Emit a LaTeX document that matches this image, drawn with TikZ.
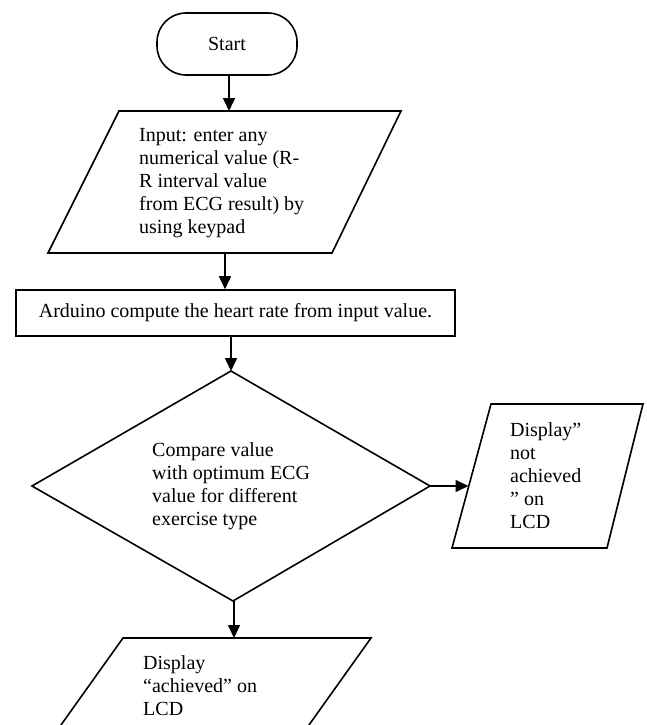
\documentclass[tikz,border=0pt]{standalone}
\usepackage{fontspec}
\setmainfont{Liberation Serif}
\usetikzlibrary{arrows.meta}
\tikzset{
  shapeline/.style={draw=black, line width=1.6pt, line join=miter},
  conn/.style={draw=black, line width=1.6pt, -{Triangle[length=13pt,width=12pt]}},
  txt/.style={font=\fontsize{20}{23}\selectfont, align=left, inner sep=0pt, anchor=west},
}
\begin{document}
\begin{tikzpicture}[x=1pt,y=-1pt]
\useasboundingbox (0,0) rectangle (646,725);
\clip (0,0) rectangle (646,725);
\fill[white] (0,0) rectangle (646,725);

% Start terminal
\node[shapeline, rounded corners=29pt, minimum width=140pt, minimum height=62pt,
      font=\fontsize{20}{23}\selectfont, inner sep=0pt] (start) at (227,44) {Start};

% Input parallelogram
\path[shapeline] (119,111) coordinate (inTL) -- (401,111) -- (332,253) -- (48,253) -- cycle;
\coordinate (inTop) at (229,111);
\coordinate (inBot) at (225,253);
\node[txt] (input) at (139,183) {Input: enter any\\numerical value (R-\\R interval value\\from ECG result) by\\using keypad};

% Process rectangle
\node[shapeline, minimum width=439pt, minimum height=46pt, inner sep=0pt,
      font=\fontsize{20}{23}\selectfont] (proc) at (235.5,313) {Arduino compute the heart rate from input value.};

% Decision diamond
\path[shapeline] (231,371) coordinate (dTop) -- (430,486) coordinate (dRight)
   -- (233,601) coordinate (dBot) -- (32,486) coordinate (dLeft) -- cycle;
\node[txt] (decision) at (152,486) {Compare value\\with optimum ECG\\value for different\\exercise type};

% Right output parallelogram
\path[shapeline] (491,404) -- (643,404) -- (607,548) -- (452,548) -- cycle;
\coordinate (notIn) at (468.5,486);
\node[txt] (notach) at (510,476) {Display”\\not\\achieved\\” on\\LCD};

% Bottom output parallelogram
\path[shapeline] (123,638) -- (371,638) -- (284,760) -- (36,760) -- cycle;
\coordinate (achTop) at (234,638);
\node[txt] (ach) at (143,686) {Display\\“achieved” on\\LCD};

% Connectors
\draw[conn] (start.south -| inTop) -- (inTop);
\draw[conn] (inBot) -- (inBot |- proc.north);
\draw[conn] (proc.south -| dTop) -- (dTop);
\draw[conn] (dRight) -- (notIn);
\draw[shapeline] (dBot) -- (achTop |- dBot);
\draw[conn] (achTop |- dBot) -- (achTop);
\end{tikzpicture}
\end{document}
